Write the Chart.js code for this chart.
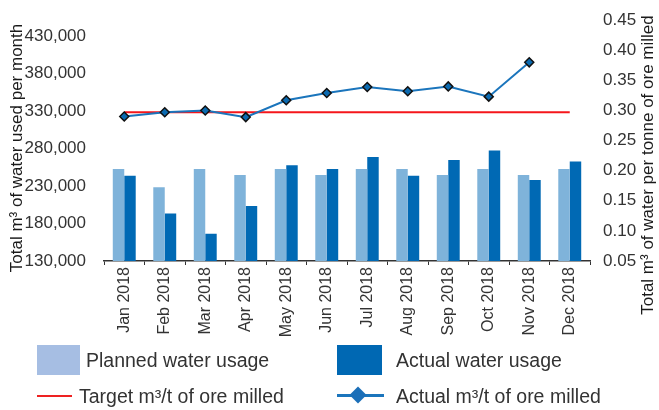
<!DOCTYPE html>
<html lang="en">

<head>
    <meta charset="UTF-8">
    <meta name="viewport" content="width=device-width, initial-scale=1.0">
    <script src="https://cdn.jsdelivr.net/npm/chart.js"></script>
    <title>Water usage 2018</title>
</head>

<body>
    <div class="chart-wrapper">
        <canvas id="myChart" width="659" height="410"></canvas>
        <div class="legend">
            <div class="swatch" style="left:37px;top:345px;width:43px;height:30px;background:#a6bee3"></div>
            <div class="label" style="left:86px;top:348px">Planned water usage</div>
            <div class="swatch" style="left:337px;top:345px;width:45px;height:30px;background:#0068b3"></div>
            <div class="label" style="left:396px;top:348px">Actual water usage</div>
            <div class="swatch" style="left:37px;top:395px;width:35px;height:2px;background:#ee2222"></div>
            <div class="label" style="left:79px;top:384px">Target m³/t of ore milled</div>
            <div class="swatch" style="left:337px;top:394px;width:47px;height:3px;background:#1b75bc"></div>
            <div class="swatch" style="left:352px;top:389px;width:12px;height:12px;background:#1b6fb8;transform:rotate(45deg)"></div>
            <div class="label" style="left:396px;top:384px">Actual m³/t of ore milled</div>
        </div>
    </div>
    <style>
        body {
            background-color: #fff;
            margin: 0;
        }

        .chart-wrapper {
            position: relative;
            height: 410px;
            width: 659px;
        }

        #myChart {
            position: absolute;
            left: 0;
            top: 0;
        }

        .legend .swatch,
        .legend .label {
            position: absolute;
        }

        .legend .label {
            font-family: "Liberation Sans", sans-serif;
            font-size: 19.5px;
            line-height: 24px;
            color: #333;
            white-space: nowrap;
        }
    </style>
    <script>
        const months = ["Jan 2018", "Feb 2018", "Mar 2018", "Apr 2018", "May 2018", "Jun 2018",
            "Jul 2018", "Aug 2018", "Sep 2018", "Oct 2018", "Nov 2018", "Dec 2018"];
        const planned = [252800, 228200, 252800, 244800, 252800, 244800, 252800, 252800, 244800, 252800, 244800, 252800];
        const actual = [243800, 193400, 166200, 203200, 257700, 252800, 268800, 243800, 264800, 277300, 238000, 262600];
        const actualPerTonne = [0.290, 0.297, 0.300, 0.289, 0.317, 0.329, 0.339, 0.332, 0.340, 0.323, 0.380, null];
        const targetPerTonne = [0.297, 0.297, 0.297, 0.297, 0.297, 0.297, 0.297, 0.297, 0.297, 0.297, 0.297, 0.297];
        const leftTicks = [130000, 180000, 230000, 280000, 330000, 380000, 430000];

        const fontFamily = "Liberation Sans";

        // axis titles read bottom to top on both sides
        const axisTitles = {
            id: "axisTitles",
            afterDraw(chart) {
                const c = chart.ctx;
                c.save();
                c.font = `17px ${fontFamily}`;
                c.fillStyle = "#1a1a1a";
                c.textAlign = "center";
                c.textBaseline = "middle";
                [[17, 148, "Total m³ of water used per month"],
                 [648, 165, "Total m³ of water per tonne of ore milled"]].forEach(([x, y, t]) => {
                    c.save();
                    c.translate(x, y);
                    c.rotate(-Math.PI / 2);
                    c.fillText(t, 0, 0);
                    c.restore();
                });
                c.restore();
            }
        };

        Chart.defaults.font.family = fontFamily;
        Chart.defaults.color = "#333";

        new Chart(document.getElementById("myChart"), {
            type: "bar",
            data: {
                labels: months,
                datasets: [
                    { label: "Planned water usage", data: planned, backgroundColor: "#7fb3da", order: 2 },
                    { label: "Actual water usage", data: actual, backgroundColor: "#0069b4", order: 2 },
                    {
                        type: "line", label: "Target m³/t of ore milled", data: targetPerTonne, yAxisID: "y1",
                        borderColor: "#f5161b", borderWidth: 2, pointRadius: 0, order: 1
                    },
                    {
                        type: "line", label: "Actual m³/t of ore milled", data: actualPerTonne, yAxisID: "y1",
                        borderColor: "#1b75bc", borderWidth: 2, pointStyle: "rectRot", pointRadius: 4.5,
                        pointBackgroundColor: "#0b6ab0", pointBorderColor: "#111", pointBorderWidth: 1.5, order: 0
                    }
                ]
            },
            options: {
                responsive: false,
                animation: false,
                layout: { padding: { top: 19 } },
                plugins: { legend: { display: false }, tooltip: { enabled: false } },
                datasets: { bar: { categoryPercentage: 0.566, barPercentage: 1 } },
                scales: {
                    x: {
                        offset: true,
                        border: { color: "#333", width: 1.5 },
                        grid: { drawOnChartArea: false, tickLength: 4, color: "#333", offset: true },
                        ticks: { maxRotation: 90, minRotation: 90, padding: 2, font: { size: 16 } },
                        afterFit: (axis) => { axis.height = 149; }
                    },
                    y: {
                        position: "left",
                        min: 130000,
                        max: 451000,
                        border: { display: false },
                        grid: { display: false },
                        afterBuildTicks: (axis) => { axis.ticks = leftTicks.map((v) => ({ value: v })); },
                        ticks: { font: { size: 17 }, padding: 10, callback: (v) => v.toLocaleString("en-US") },
                        afterFit: (axis) => { axis.width = 104; }
                    },
                    y1: {
                        position: "right",
                        min: 0.05,
                        max: 0.45,
                        border: { display: false },
                        grid: { display: false },
                        ticks: { stepSize: 0.05, font: { size: 17 }, padding: 5, callback: (v) => v.toFixed(2) },
                        afterFit: (axis) => { axis.width = 69; }
                    }
                }
            },
            plugins: [axisTitles]
        });
    </script>
</body>

</html>
